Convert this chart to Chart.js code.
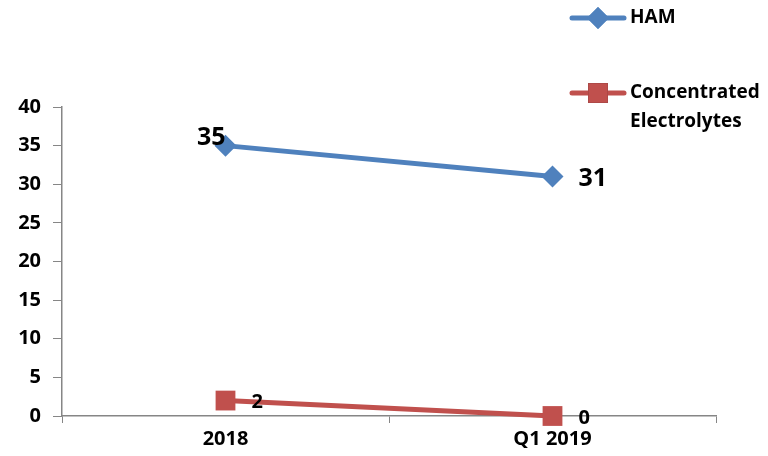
<!DOCTYPE html>
<html>
<head>
  <meta charset="UTF-8">
  <title>HAM vs Concentrated Electrolytes</title>
  <script src="https://cdn.jsdelivr.net/npm/chart.js"></script>
</head>
<body style="margin:0;background:#fff">
  <div style="width:768px;height:456px"><canvas id="chart"></canvas></div>
  <script>
    const categories = ['2018', 'Q1 2019'];
    const hamValues = [35, 31];
    const electrolyteValues = [2, 0];
    const seriesNames = ['HAM', ['Concentrated', 'Electrolytes']];
    const yTicks = [0, 5, 10, 15, 20, 25, 30, 35, 40];

    const FONT = '"Open Sans", sans-serif';
    const BLUE = '#4F81BD';
    const RED = '#C0504D';

    // value labels next to the points
    const labelPlugin = {
      id: 'pointLabels',
      afterDatasetsDraw(chart) {
        const ctx = chart.ctx;
        ctx.save();
        ctx.fillStyle = '#000';
        ctx.textBaseline = 'middle';
        chart.data.datasets.forEach((ds, i) => {
          const meta = chart.getDatasetMeta(i);
          meta.data.forEach((pt, j) => {
            const big = i === 0;
            ctx.font = 'bold ' + (big ? 25 : 20) + 'px ' + FONT;
            let x = pt.x + 26, y = pt.y + 2;
            ctx.textAlign = 'left';
            if (i === 0 && j === 0) { ctx.textAlign = 'right'; x = pt.x; y = pt.y - 8; }
            ctx.fillText(String(ds.data[j]), x, y);
          });
        });
        ctx.restore();
      }
    };

    // legend in the top-right corner, stacked
    const legendPlugin = {
      id: 'sideLegend',
      afterDraw(chart) {
        const ctx = chart.ctx;
        const rows = [18, 93];
        ctx.save();
        chart.data.datasets.forEach((ds, i) => {
          const y = rows[i];
          ctx.strokeStyle = ds.borderColor;
          ctx.lineWidth = 5;
          ctx.lineCap = 'round';
          ctx.beginPath();
          ctx.moveTo(572, y);
          ctx.lineTo(624, y);
          ctx.stroke();
          Chart.helpers.drawPoint(ctx, { pointStyle: ds.pointStyle, radius: ds.pointRadius, borderWidth: 0 }, 598, y);
          ctx.fillStyle = ds.borderColor;
          ctx.fill();
          ctx.fillStyle = '#000';
          ctx.font = 'bold 19px ' + FONT;
          ctx.textAlign = 'left';
          ctx.textBaseline = 'middle';
          const lines = [].concat(seriesNames[i]);
          lines.forEach((t, k) => ctx.fillText(t, 630, y + k * 29));
        });
        ctx.restore();
      }
    };

    const ctx = document.getElementById('chart').getContext('2d');
    new Chart(ctx, {
      type: 'line',
      data: {
        labels: categories,
        datasets: [{
          label: 'HAM',
          data: hamValues,
          borderColor: BLUE,
          backgroundColor: BLUE,
          borderWidth: 5,
          pointStyle: 'rectRot',
          pointRadius: 11,
          pointBorderWidth: 0,
          clip: false,
          tension: 0
        }, {
          label: 'Concentrated Electrolytes',
          data: electrolyteValues,
          borderColor: RED,
          backgroundColor: RED,
          borderWidth: 5,
          pointStyle: 'rect',
          pointRadius: 14,
          pointBorderWidth: 0,
          clip: false,
          tension: 0
        }]
      },
      options: {
        responsive: true,
        maintainAspectRatio: false,
        animation: false,
        layout: { padding: { top: 107, right: 52, left: 0, bottom: 0 } },
        plugins: { legend: { display: false }, tooltip: { enabled: false } },
        scales: {
          x: {
            offset: true,
            afterFit(s) { s.height = 40; },
            border: { color: '#868686', width: 1.5 },
            grid: { offset: true, drawOnChartArea: false, drawTicks: true, tickLength: 7, color: '#868686' },
            ticks: { color: '#000', font: { family: FONT, size: 20, weight: 'bold' }, padding: 4 }
          },
          y: {
            min: 0,
            max: 40,
            afterFit(s) { s.width = 62; },
            afterBuildTicks(s) { s.ticks = yTicks.map(v => ({ value: v })); },
            border: { color: '#868686', width: 1.5 },
            grid: { drawOnChartArea: false, drawTicks: true, tickLength: 9, color: '#868686' },
            ticks: { color: '#000', font: { family: FONT, size: 20, weight: 'bold' }, padding: 12 }
          }
        }
      },
      plugins: [labelPlugin, legendPlugin]
    });
  </script>
</body>
</html>
